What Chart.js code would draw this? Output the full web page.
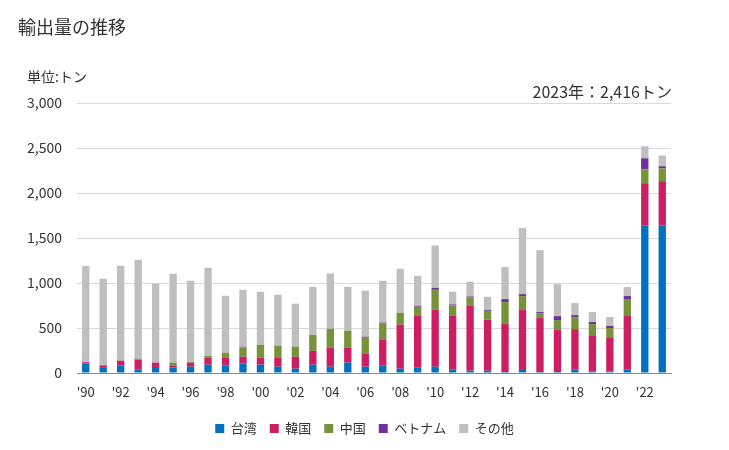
<!DOCTYPE html>
<html>
<head>
<meta charset="utf-8">
<script src="https://cdn.jsdelivr.net/npm/chart.js@4"></script>
<style>
  html, body { margin: 0; padding: 0; background: #fff; }
  #wrap { width: 729px; height: 450px; position: relative; }
</style>
</head>
<body>
<div id="wrap"><canvas id="exportChart"></canvas></div>
<script>
// years and tick labels
const years = [];
for (let y = 1990; y <= 2023; y++) years.push(y);
const yearLabels = years.map(y => "'" + String(y).slice(2));

// series values (tons)
const taiwan  = [105,65,85,41,67,63,70,92,85,107,92,70,48,92,70,115,70,85,48,63,70,41,26,25,22,44,22,22,37,15,15,37,1643,1643];
const korea   = [15,20,52,107,48,22,44,81,89,74,81,104,133,155,215,170,148,289,488,577,636,599,725,568,522,655,588,455,451,396,374,596,466,488];
const china   = [0,0,0,11,0,30,11,18,52,104,141,130,111,178,207,185,174,174,133,96,218,111,89,98,244,155,56,111,133,133,111,189,155,144];
const vietnam = [0,0,0,0,0,0,0,0,0,7,0,0,0,0,0,0,11,11,0,11,22,11,11,11,33,22,11,44,22,22,22,33,122,22];
const other   = [1070,962,1054,1099,880,988,900,978,632,633,589,566,478,533,614,488,511,466,489,333,471,141,163,145,356,734,688,356,134,111,100,100,134,119];

const seriesNames = ['台湾', '韓国', '中国', 'ベトナム', 'その他'];
const seriesColors = ['#0070C0', '#CE1E62', '#76933C', '#7030A0', '#BFBFBF'];
const seriesData = [taiwan, korea, china, vietnam, other];

const FONT = "'Noto Sans CJK JP', 'Noto Sans', sans-serif";

// title, unit and latest value drawn on the canvas
const textPlugin = {
    id: 'texts',
    afterDraw(chart) {
        const ctx = chart.ctx;
        ctx.save();
        ctx.fillStyle = '#333';
        ctx.textBaseline = 'middle';
        ctx.font = '18px ' + FONT;
        ctx.textAlign = 'left';
        ctx.fillText('輸出量の推移', 18, 27);
        ctx.font = '14px ' + FONT;
        ctx.fillText('単位:トン', 27, 77);
        ctx.font = '16px ' + FONT;
        ctx.textAlign = 'right';
        ctx.fillText('2023年：2,416トン', 672, 92);
        ctx.restore();
    }
};

const chartConfig = {
    type: 'bar',
    data: {
        labels: yearLabels,
        datasets: seriesNames.map((name, i) => ({
            label: name,
            data: seriesData[i],
            backgroundColor: seriesColors[i],
            borderWidth: 0,
            barPercentage: 0.42,
            categoryPercentage: 1.0
        }))
    },
    options: {
        responsive: false,
        animation: false,
        layout: { padding: { top: 103, right: 0, left: 0, bottom: 5 } },
        plugins: {
            legend: {
                position: 'bottom',
                labels: {
                    boxWidth: 9,
                    boxHeight: 9,
                    padding: 13,
                    color: '#333',
                    font: { family: FONT, size: 13 }
                }
            },
            tooltip: { enabled: false }
        },
        scales: {
            x: {
                stacked: true,
                grid: { display: false, drawTicks: false },
                border: { color: '#898989', width: 1 },
                afterFit: s => { s.height = 36; },
                ticks: {
                    autoSkip: false,
                    maxRotation: 0,
                    padding: 11,
                    color: '#333',
                    font: { family: FONT, size: 13 },
                    callback: (v, i) => (i % 2 === 0 ? yearLabels[i] : '')
                }
            },
            y: {
                stacked: true,
                min: 0,
                max: 3000,
                afterFit: s => { s.width = 77; },
                grid: { color: '#D9D9D9', drawTicks: false },
                border: { display: false },
                ticks: {
                    stepSize: 500,
                    padding: 15,
                    color: '#333',
                    font: { family: FONT, size: 14 },
                    callback: v => v.toLocaleString('en-US')
                }
            },
            // empty right-hand spacer so the legend centres on the full width
            yRight: {
                position: 'right',
                afterFit: s => { s.width = 58; },
                grid: { display: false, drawTicks: false },
                border: { display: false },
                ticks: { display: false }
            }
        }
    },
    plugins: [textPlugin]
};

const canvas = document.getElementById('exportChart');
canvas.width = 729;
canvas.height = 450;
new Chart(canvas.getContext('2d'), chartConfig);
</script>
</body>
</html>
